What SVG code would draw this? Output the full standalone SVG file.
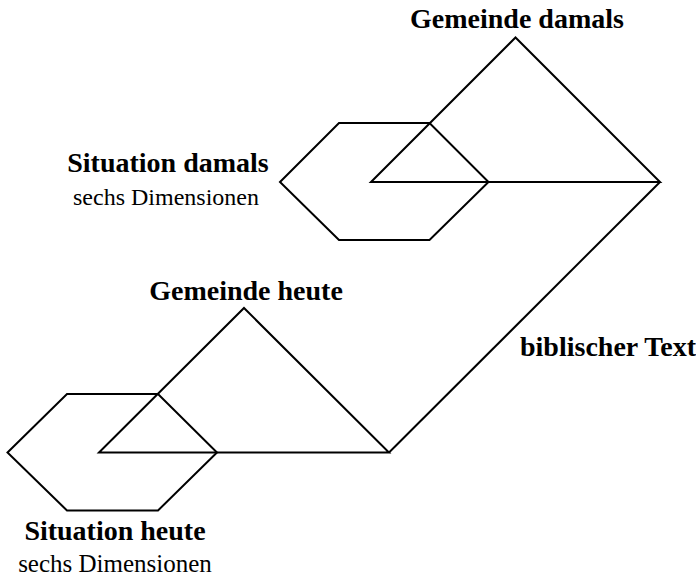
<svg xmlns="http://www.w3.org/2000/svg" width="696" height="577" viewBox="0 0 696 577">
<style>
.s{fill:none;stroke:#000;stroke-width:2;stroke-linejoin:miter}
.b{font-family:"Liberation Serif","Times New Roman",serif;font-weight:bold;font-size:28px;fill:#000}
.r{font-family:"Liberation Serif","Times New Roman",serif;font-size:24px;fill:#000}
</style>
<rect width="696" height="577" fill="#fff"/>
<g id="connectors">
<line class="s" x1="660" y1="182" x2="389" y2="452.5"/>
<text class="b" x="520" y="356">biblischer Text</text>
</g>
<g id="situation-damals">
<polygon class="s" points="280,182 339,123 429.5,123 488.5,182 429.5,240 339,240"/>
<text class="b" x="168" y="172" text-anchor="middle">Situation damals</text>
<text class="r" x="166" y="205" text-anchor="middle">sechs Dimensionen</text>
</g>
<g id="gemeinde-damals">
<polygon class="s" points="371,182 515.5,37.5 660,182"/>
<text class="b" x="517" y="27.5" text-anchor="middle">Gemeinde damals</text>
</g>
<g id="situation-heute">
<polygon class="s" points="7.5,452.5 67,394 158,394 217,452.5 158,510.5 67,510.5"/>
<text class="b" x="115" y="540" text-anchor="middle">Situation heute</text>
<text class="r" x="115" y="572" text-anchor="middle" style="font-size:25px">sechs Dimensionen</text>
</g>
<g id="gemeinde-heute">
<polygon class="s" points="99,452.5 244,308 389,452.5"/>
<text class="b" x="246" y="300" text-anchor="middle">Gemeinde heute</text>
</g>
</svg>
